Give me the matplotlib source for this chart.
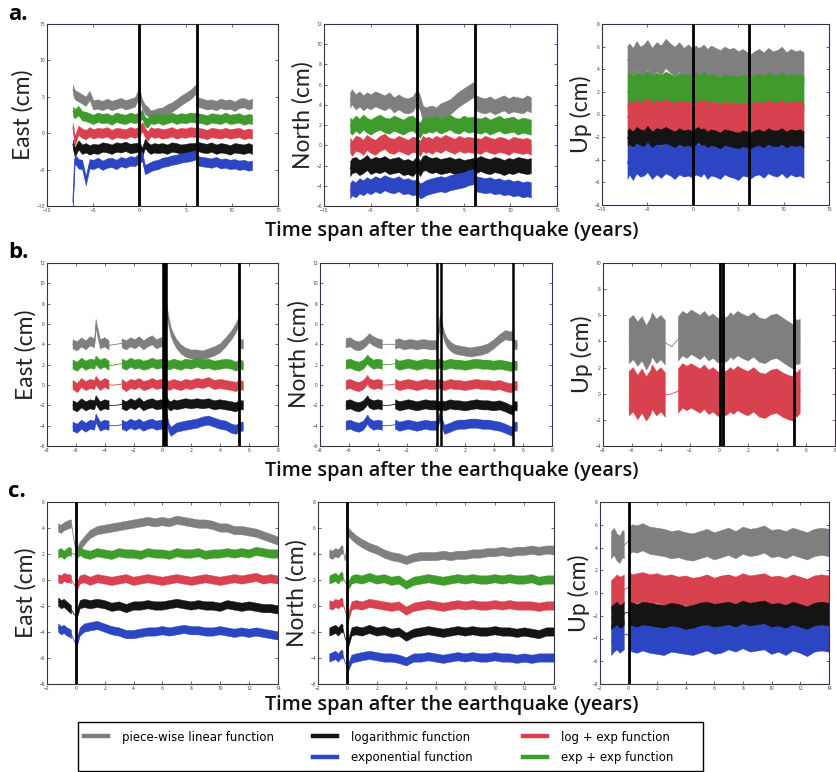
import matplotlib
matplotlib.use("Agg")
import matplotlib.pyplot as plt
import numpy as np
from matplotlib.lines import Line2D
from matplotlib.patches import Rectangle

plt.rcParams['font.family'] = ['Open Sans', 'DejaVu Sans']

GRAY = '#7f7f7f'
GREEN = '#3f9b2c'
RED = '#d8424f'
BLACK = '#141414'
BLUE = '#2c45c2'

legend_labels = ["piece-wise linear function", "logarithmic function", "exponential function",
                 "log + exp function", "exp + exp function"]
x_label = "Time span after the earthquake (years)"

# ---------------- row a ----------------
a_t = [-7.2, -7.0, -6.6, -6.2, -5.8, -5.4, -5.0, -4.5, -4.0, -3.5, -3.0, -2.5, -2.0, -1.5, -1.0, -0.5,
       0.0, 0.3, 0.6, 0.9, 1.2, 1.6, 2.0, 2.5, 3.0, 3.5, 4.0, 4.5, 5.0, 5.5, 6.0, 6.2, 6.3, 6.8, 7.3,
       7.8, 8.3, 8.8, 9.3, 9.8, 10.3, 10.8, 11.3, 11.8, 12.2]
a_east_gray = [6.0, 5.3, 5.0, 4.7, 4.4, 5.2, 3.9, 4.0, 3.8, 4.1, 3.8, 4.0, 4.2, 3.9, 4.1, 4.3, 5.6, 4.0, 3.3, 3.0, 2.5, 2.6, 2.8, 2.9, 3.3, 3.6, 4.0, 4.5, 4.9, 5.3, 5.9, 6.2, 4.3, 4.1, 3.9, 4.0, 3.8, 4.1, 3.9, 4.0, 3.7, 4.1, 4.2, 3.9, 4.1]
a_east_green = [3.0, 2.7, 3.1, 2.4, 2.3, 2.1, 1.9, 2.2, 2.0, 2.1, 1.8, 2.2, 2.0, 1.9, 2.2, 2.0, 2.2, 2.6, 1.6, 1.4, 2.0, 1.9, 2.1, 1.8, 2.0, 2.2, 1.9, 2.1, 2.0, 2.2, 2.1, 2.3, 2.1, 2.0, 1.8, 2.1, 2.0, 1.9, 2.2, 1.9, 2.0, 2.1, 1.8, 2.0, 1.9]
a_east_red = [0.8, -1.0, 0.4, 0.0, -0.2, 0.2, -0.1, 0.1, 0.0, 0.2, -0.2, 0.1, 0.0, -0.1, 0.2, 0.0, 0.3, 0.9, 0.1, -0.4, 0.2, 0.0, 0.1, -0.1, 0.0, 0.2, -0.1, 0.1, 0.0, 0.2, 0.1, 0.3, 0.1, 0.0, -0.2, 0.1, 0.0, -0.1, 0.1, -0.1, 0.0, 0.1, -0.2, 0.0, -0.1]
a_east_black = [-1.5, -2.6, -1.6, -2.2, -2.0, -2.3, -2.1, -2.2, -1.9, -2.0, -2.2, -1.9, -2.0, -1.8, -2.1, -2.0, -1.9, -2.6, -1.4, -1.9, -2.2, -2.0, -2.1, -2.0, -2.2, -1.9, -2.0, -2.2, -2.1, -2.0, -2.0, -1.8, -1.8, -2.0, -2.1, -1.9, -2.2, -2.0, -2.1, -2.3, -2.0, -2.1, -2.2, -2.0, -2.2]
a_east_blue = [-9.5, -3.5, -4.2, -4.3, -6.5, -4.2, -4.3, -4.0, -4.4, -4.1, -4.0, -4.3, -3.9, -4.1, -3.8, -3.9, -3.4, -3.2, -5.0, -4.8, -4.6, -4.4, -4.3, -4.0, -3.9, -3.7, -3.6, -3.4, -3.3, -3.2, -3.0, -3.0, -3.8, -3.9, -4.0, -4.1, -3.9, -4.2, -4.1, -4.3, -4.2, -4.4, -4.3, -4.5, -4.4]

a_north_gray = [4.5, 4.8, 4.3, 4.6, 4.2, 4.5, 4.3, 4.6, 4.4, 4.2, 4.5, 4.0, 4.3, 4.0, 3.9, 4.1, 4.8, 4.2, 3.2, 3.0, 3.1, 3.2, 3.0, 3.4, 3.6, 3.8, 4.2, 4.6, 4.9, 5.2, 5.5, 5.4, 4.2, 4.0, 3.9, 4.1, 3.8, 4.0, 4.2, 3.9, 4.1, 4.0, 3.9, 4.2, 4.0]
a_north_green = [2.0, 1.8, 2.2, 1.9, 2.3, 2.0, 1.8, 2.1, 2.3, 2.0, 1.9, 2.2, 2.0, 1.8, 2.1, 2.2, 1.8, 1.5, 2.0, 1.9, 2.1, 2.0, 2.2, 1.9, 2.1, 2.3, 2.0, 1.9, 2.2, 2.0, 2.1, 2.0, 2.0, 1.9, 2.1, 1.8, 2.0, 2.2, 1.9, 2.0, 2.1, 1.8, 2.0, 1.9, 1.8]
a_north_red = [0.0, -0.3, 0.2, 0.1, -0.2, 0.3, 0.0, -0.2, 0.2, 0.4, 0.0, -0.1, 0.2, 0.0, -0.2, 0.1, 0.0, -0.3, 0.2, 0.0, 0.1, -0.1, 0.2, 0.0, 0.3, 0.1, -0.1, 0.2, 0.0, 0.1, 0.0, 0.1, 0.0, -0.1, 0.2, 0.0, -0.1, 0.1, 0.0, -0.2, 0.1, 0.0, -0.1, 0.0, -0.2]
a_north_black = [-2.3, -2.0, -1.9, -2.2, -2.0, -1.7, -2.1, -1.9, -2.0, -1.8, -2.1, -2.0, -1.9, -2.2, -2.1, -2.3, -1.8, -2.3, -1.8, -1.7, -1.9, -2.0, -1.9, -2.1, -2.0, -1.9, -2.1, -2.0, -2.2, -2.1, -2.0, -2.2, -2.0, -1.8, -2.0, -2.1, -1.9, -2.0, -2.2, -2.0, -2.1, -1.9, -2.0, -2.1, -2.0]
a_north_blue = [-4.5, -4.2, -4.4, -4.0, -4.2, -3.9, -4.1, -3.8, -4.0, -3.7, -3.9, -4.0, -3.8, -4.1, -4.0, -4.2, -4.1, -4.5, -4.4, -4.2, -4.1, -4.0, -3.9, -3.8, -3.9, -3.7, -3.6, -3.5, -3.4, -3.2, -3.1, -3.2, -3.8, -3.9, -4.0, -3.9, -4.1, -4.0, -4.2, -4.1, -4.3, -4.2, -4.4, -4.3, -4.4]

a_up_gray = [4.8, 5.0, 4.6, 5.2, 4.7, 4.9, 5.3, 4.6, 5.1, 4.8, 5.4, 5.0, 4.7, 5.1, 4.6, 4.9, 4.5, 4.8, 4.6, 4.7, 4.9, 4.5, 4.8, 4.6, 4.4, 4.7, 4.5, 4.6, 4.3, 4.5, 4.2, 4.4, 4.0, 4.3, 4.5, 4.2, 4.6, 4.3, 4.4, 4.7, 4.2, 4.5, 4.3, 4.4, 4.2]
a_up_green = [2.0, 2.2, 1.9, 2.3, 2.0, 2.1, 2.4, 1.9, 2.2, 2.0, 2.3, 2.1, 1.9, 2.2, 2.0, 2.1, 1.9, 2.2, 2.0, 2.1, 2.3, 1.9, 2.1, 2.0, 1.8, 2.1, 1.9, 2.0, 1.8, 2.0, 1.9, 2.0, 1.8, 2.0, 2.1, 1.9, 2.2, 2.0, 2.0, 2.2, 1.9, 2.1, 2.0, 2.1, 1.9]
a_up_red = [-0.3, 0.0, -0.4, 0.1, -0.2, -0.1, 0.2, -0.3, 0.0, -0.2, 0.1, -0.1, -0.3, 0.0, -0.2, -0.1, -0.4, 0.0, -0.2, -0.1, 0.1, -0.3, -0.1, -0.2, -0.4, -0.1, -0.3, -0.2, -0.4, -0.2, -0.3, -0.2, -0.4, -0.2, -0.1, -0.3, 0.0, -0.2, -0.2, 0.0, -0.3, -0.1, -0.2, -0.1, -0.3]
a_up_black = [-2.1, -1.9, -2.2, -1.8, -2.0, -2.1, -1.7, -2.2, -1.9, -2.0, -1.8, -2.0, -2.2, -1.9, -2.1, -2.0, -2.2, -1.9, -1.8, -2.0, -1.9, -2.2, -2.0, -2.1, -2.3, -2.0, -2.1, -2.2, -2.3, -2.1, -2.2, -2.1, -2.3, -2.1, -2.0, -2.2, -1.9, -2.1, -2.1, -1.9, -2.2, -2.0, -2.1, -2.0, -2.2]
a_up_blue = [-4.3, -3.9, -4.4, -3.8, -4.1, -4.0, -3.7, -4.3, -3.9, -4.2, -3.8, -4.0, -4.3, -3.9, -4.1, -4.0, -4.2, -3.9, -4.0, -4.1, -3.8, -4.3, -4.0, -4.1, -4.3, -3.9, -4.1, -4.2, -4.4, -4.0, -4.1, -4.0, -4.3, -4.0, -3.9, -4.2, -3.8, -4.0, -4.1, -3.8, -4.2, -3.9, -4.1, -4.0, -4.2]

# ---------------- row b ----------------
b_t = [-6.2, -5.9, -5.6, -5.3, -5.0, -4.7, -4.6, -4.3, -4.0, -3.7, -3.25, -2.8, -2.5, -2.2, -1.9, -1.6,
       -1.3, -1.0, -0.7, -0.4, -0.1, 0.1, 0.3, 0.45, 0.6, 0.8, 1.0, 1.3, 1.6, 2.0, 2.4, 2.8, 3.2, 3.6,
       4.0, 4.4, 4.8, 5.1, 5.3, 5.4, 5.6]
b_gap = (-3.7, -2.8)
b_east_gray = [4.0, 3.8, 4.2, 3.9, 4.3, 4.1, 6.0, 4.0, 4.2, 3.9, 4.0, 4.1, 3.9, 4.2, 4.0, 4.3, 3.9, 4.2, 4.4, 4.0, 4.2, 4.1, 7.5, 6.2, 5.2, 4.5, 4.0, 3.5, 3.2, 3.0, 3.0, 2.9, 3.1, 3.3, 3.6, 4.2, 4.9, 5.6, 6.2, 4.0, 4.0]
b_east_green = [2.0, 1.8, 2.2, 1.9, 2.1, 2.0, 2.4, 2.0, 2.2, 1.9, 2.0, 2.1, 1.9, 2.2, 2.0, 2.1, 1.9, 2.0, 2.2, 2.0, 2.1, 2.0, 2.2, 1.9, 2.0, 2.1, 2.0, 1.9, 2.1, 2.0, 2.2, 2.0, 2.1, 1.9, 2.0, 2.1, 2.0, 1.8, 2.0, 2.0, 1.9]
b_east_red = [0.0, -0.3, 0.2, -0.1, 0.1, 0.0, 0.4, -0.1, 0.2, 0.0, 0.0, 0.1, -0.2, 0.1, 0.0, 0.2, -0.1, 0.0, 0.2, 0.0, 0.1, 0.0, 0.1, -0.1, 0.0, 0.1, 0.0, -0.1, 0.1, 0.0, 0.2, 0.1, 0.3, 0.0, 0.1, 0.0, -0.1, -0.2, 0.0, 0.0, -0.1]
b_east_black = [-2.0, -2.2, -1.8, -2.1, -1.9, -2.0, -1.5, -2.1, -1.9, -2.0, -2.0, -1.9, -2.1, -1.8, -2.0, -1.7, -2.1, -1.9, -1.8, -2.0, -1.9, -2.0, -1.6, -2.0, -2.1, -1.9, -2.0, -1.9, -1.8, -1.9, -1.8, -1.9, -1.8, -2.0, -1.9, -2.0, -2.1, -2.2, -2.0, -2.0, -2.0]
b_east_blue = [-4.1, -4.3, -3.9, -4.2, -3.9, -4.0, -3.3, -4.1, -3.9, -4.0, -4.0, -3.9, -4.1, -3.8, -4.0, -3.8, -4.1, -3.9, -3.8, -4.0, -3.9, -4.0, -3.2, -4.2, -4.6, -4.4, -4.2, -4.1, -4.0, -3.9, -3.8, -3.6, -3.5, -3.7, -3.9, -4.0, -4.3, -4.4, -4.2, -4.1, -4.1]

b_north_gray = [4.1, 4.2, 3.9, 3.8, 4.0, 4.4, 4.6, 4.3, 4.1, 4.0, 4.0, 4.0, 4.1, 3.9, 4.0, 4.0, 3.9, 4.0, 4.0, 3.9, 3.9, 4.0, 6.5, 5.5, 4.7, 4.1, 3.8, 3.5, 3.4, 3.3, 3.2, 3.3, 3.4, 3.6, 4.0, 4.5, 4.9, 4.8, 4.8, 4.0, 3.9]
b_north_green = [2.0, 2.1, 1.9, 1.8, 2.0, 2.5, 2.3, 2.0, 2.1, 2.0, 2.0, 2.1, 1.9, 2.0, 2.1, 2.0, 1.9, 2.0, 2.1, 2.0, 2.0, 2.0, 2.1, 2.0, 1.9, 2.0, 2.1, 2.0, 2.0, 1.9, 2.0, 2.1, 2.0, 2.0, 1.9, 2.0, 1.9, 1.8, 1.8, 1.9, 1.9]
b_north_red = [0.0, 0.1, -0.1, -0.2, 0.0, 0.5, 0.2, 0.0, 0.1, 0.0, 0.0, 0.1, -0.1, 0.0, 0.1, 0.0, -0.1, 0.0, 0.1, 0.0, 0.0, 0.0, 0.1, 0.0, -0.1, 0.0, 0.1, 0.0, 0.0, -0.1, 0.0, 0.1, 0.0, 0.0, -0.1, 0.0, -0.2, -0.3, -0.3, -0.1, -0.1]
b_north_black = [-2.0, -1.9, -2.1, -2.2, -2.0, -1.5, -1.8, -2.0, -1.9, -2.0, -2.0, -1.9, -2.1, -2.0, -1.9, -2.0, -2.1, -2.0, -1.9, -2.0, -2.0, -2.0, -2.1, -2.0, -2.1, -2.0, -1.9, -2.0, -2.0, -2.1, -2.0, -1.9, -2.0, -2.0, -2.1, -2.0, -2.2, -2.4, -2.5, -2.1, -2.1]
b_north_blue = [-4.0, -3.9, -4.1, -4.2, -4.0, -3.4, -3.7, -4.0, -3.9, -4.0, -4.0, -3.9, -4.1, -4.0, -3.9, -4.0, -4.1, -4.0, -3.9, -4.0, -4.0, -4.0, -3.0, -3.8, -4.4, -4.3, -4.2, -4.0, -3.9, -3.9, -3.8, -3.8, -3.9, -3.9, -4.0, -4.1, -4.3, -4.5, -4.6, -4.1, -4.1]

b_up_gray = [4.0, 4.3, 3.8, 4.2, 3.5, 4.1, 4.5, 4.0, 4.3, 3.9, 3.6, 4.2, 4.6, 4.4, 4.7, 4.5, 4.3, 4.6, 4.2, 4.4, 4.1, 4.0, 4.3, 4.1, 4.2, 4.5, 4.3, 4.6, 4.4, 4.2, 4.5, 4.1, 4.0, 4.3, 4.4, 4.1, 3.8, 3.6, 4.0, 3.9, 4.0]
b_up_red = [0.0, 0.3, -0.3, 0.2, -0.4, 0.1, 0.5, 0.0, 0.3, -0.1, 0.0, 0.2, 0.6, 0.4, 0.6, 0.4, 0.2, 0.5, 0.1, 0.3, 0.0, -0.1, 0.2, 0.0, 0.1, 0.3, 0.1, 0.4, 0.2, 0.0, 0.3, -0.1, -0.2, 0.1, 0.2, -0.1, -0.3, -0.4, 0.0, -0.1, 0.2]

# ---------------- row c ----------------
c_t = [-1.2, -1.0, -0.8, -0.6, -0.4, -0.3, -0.15, 0.05, 0.3, 0.6, 1.0, 1.5, 2.0, 2.5, 3.0, 3.5, 4.0,
       4.5, 5.0, 5.5, 6.0, 6.5, 7.0, 7.5, 8.0, 8.5, 9.0, 9.5, 10.0, 10.5, 11.0, 11.5, 12.0, 12.5, 13.0,
       13.5, 14.0]
c_gap = (-0.3, 0.05)
c_east_gray = [4.0, 3.9, 4.1, 4.2, 4.3, 4.3, 3.2, 2.0, 2.6, 3.0, 3.5, 3.8, 3.9, 4.0, 4.1, 4.2, 4.3, 4.4, 4.5, 4.4, 4.5, 4.4, 4.6, 4.5, 4.4, 4.3, 4.3, 4.2, 4.0, 4.0, 3.8, 3.8, 3.7, 3.6, 3.4, 3.2, 3.0]
c_east_green = [2.0, 2.1, 1.9, 2.1, 2.2, 2.1, 2.0, 1.9, 2.2, 2.0, 1.9, 2.1, 2.0, 1.9, 2.1, 2.0, 2.0, 1.9, 2.1, 2.0, 2.0, 1.9, 2.1, 2.0, 2.0, 2.1, 1.9, 2.0, 2.0, 2.1, 2.0, 2.1, 2.0, 2.2, 2.1, 2.0, 2.0]
c_east_red = [0.1, 0.0, 0.2, 0.1, 0.1, 0.0, -0.3, -0.6, 0.0, 0.1, -0.1, 0.1, 0.0, -0.1, 0.0, 0.1, -0.1, 0.0, 0.1, 0.0, -0.1, 0.0, 0.1, 0.0, -0.1, 0.0, 0.1, 0.0, -0.1, 0.0, 0.1, 0.0, 0.1, 0.2, 0.0, 0.1, 0.0]
c_east_black = [-1.7, -1.9, -1.8, -2.0, -2.2, -2.3, -2.6, -2.8, -1.9, -1.8, -1.9, -1.8, -1.9, -2.1, -2.0, -2.2, -2.0, -2.0, -1.9, -2.0, -2.0, -1.9, -1.8, -1.9, -2.0, -1.9, -2.0, -2.0, -2.1, -1.9, -2.0, -2.1, -2.0, -2.1, -2.2, -2.2, -2.3]
c_east_blue = [-3.7, -3.9, -3.8, -4.0, -4.1, -4.2, -4.6, -5.0, -4.0, -3.7, -3.6, -3.5, -3.7, -3.9, -4.0, -4.2, -4.2, -4.1, -4.0, -4.0, -3.9, -4.0, -3.9, -3.8, -3.9, -3.9, -4.0, -4.0, -3.9, -4.0, -4.1, -4.0, -4.1, -4.0, -4.1, -4.2, -4.3]

c_north_gray = [4.0, 3.9, 4.1, 4.0, 4.3, 4.3, 3.5, 5.7, 5.4, 5.1, 4.8, 4.5, 4.3, 4.0, 3.8, 3.7, 3.5, 3.7, 3.8, 3.8, 3.8, 3.9, 3.8, 3.9, 3.9, 4.0, 4.0, 4.1, 4.1, 4.2, 4.1, 4.2, 4.2, 4.3, 4.2, 4.3, 4.3]
c_north_green = [2.0, 2.1, 2.2, 2.0, 2.3, 2.2, 1.8, 1.5, 2.0, 2.1, 2.0, 2.2, 2.0, 2.1, 1.9, 2.0, 1.6, 1.9, 2.0, 2.1, 2.0, 1.9, 2.0, 2.1, 2.0, 2.1, 2.0, 2.0, 2.1, 2.0, 2.1, 2.0, 2.0, 2.1, 1.9, 2.0, 2.0]
c_north_red = [0.1, 0.0, 0.2, 0.1, 0.3, 0.2, -0.4, -1.0, 0.0, 0.1, 0.0, 0.2, 0.1, 0.0, -0.1, 0.0, -0.4, -0.1, 0.0, 0.1, 0.0, -0.1, 0.0, 0.1, 0.0, 0.1, 0.0, 0.0, 0.1, 0.0, 0.1, 0.0, 0.0, 0.0, -0.1, 0.0, 0.0]
c_north_black = [-2.0, -1.9, -1.8, -2.0, -1.7, -1.8, -2.5, -3.0, -2.0, -1.9, -2.0, -1.8, -2.0, -1.9, -2.1, -2.0, -2.4, -2.1, -2.0, -1.9, -2.0, -2.1, -2.0, -1.9, -2.0, -1.9, -2.0, -2.0, -1.9, -2.0, -2.0, -2.1, -2.0, -2.1, -2.2, -2.0, -2.0]
c_north_blue = [-4.0, -3.9, -3.8, -4.0, -3.7, -3.8, -4.4, -4.8, -4.1, -4.0, -3.9, -3.8, -3.9, -4.0, -4.0, -4.1, -4.3, -4.0, -4.0, -3.9, -4.0, -4.1, -4.0, -3.9, -4.0, -3.9, -4.0, -4.0, -3.9, -4.0, -4.0, -4.1, -4.0, -4.1, -4.0, -4.0, -4.0]

c_up_gray = [4.2, 4.5, 4.0, 3.8, 4.3, 4.2, 4.4, 4.6, 4.8, 4.7, 4.9, 4.6, 4.5, 4.4, 4.2, 4.3, 4.1, 4.0, 4.2, 4.4, 4.1, 4.3, 4.5, 4.2, 4.6, 4.4, 4.5, 4.7, 4.3, 4.4, 4.2, 4.5, 4.3, 4.1, 4.4, 4.5, 4.4]
c_up_red = [-0.2, 0.0, 0.3, 0.1, 0.2, 0.3, 0.4, 0.5, 0.3, 0.4, 0.5, 0.3, 0.4, 0.2, 0.3, 0.1, 0.2, 0.0, 0.1, 0.3, 0.0, 0.2, 0.3, 0.1, 0.4, 0.2, 0.3, 0.4, 0.1, 0.2, 0.0, 0.3, 0.1, -0.1, 0.2, 0.3, 0.2]
c_up_black = [-2.2, -2.0, -1.8, -2.1, -2.0, -1.8, -1.7, -1.8, -1.9, -2.0, -1.8, -1.9, -2.0, -2.1, -1.9, -2.0, -2.2, -2.1, -1.9, -1.8, -2.0, -1.9, -1.8, -2.0, -1.7, -1.9, -1.8, -1.7, -2.0, -1.9, -2.1, -1.8, -2.0, -2.2, -1.9, -1.8, -1.9]
c_up_blue = [-4.2, -3.9, -3.7, -4.0, -3.8, -3.7, -3.6, -3.8, -3.9, -4.0, -3.8, -4.0, -4.1, -4.2, -3.9, -4.0, -4.1, -4.2, -4.0, -3.8, -4.1, -4.0, -3.7, -3.9, -3.6, -3.9, -3.8, -3.7, -4.1, -3.9, -4.2, -3.8, -4.0, -4.3, -3.9, -3.8, -3.9]

# noise half-widths (cm) of each band
hw_a_east = 0.65
hw_a_north = 0.75
hw_a_up = {'gray': 1.3, 'green': 1.5, 'red': 1.3, 'black': 0.7, 'blue': 1.4}
hw_b = 0.45
hw_b_up = 1.7
hw_c = 0.32
hw_c_up = {'gray': 1.2, 'red': 1.3, 'black': 1.0, 'blue': 1.3}

W, H = 837, 772
fig = plt.figure(figsize=(W / 100, H / 100), dpi=100)


def rect(l, t, r, b):
    return [l / W, 1 - b / H, (r - l) / W, (b - t) / H]


def panel(box, t, series, xlim, xstep, ylim, ystep, vlines, ylabel, gap=None):
    ax = fig.add_axes(rect(*box))
    t = np.asarray(t, float)
    mask = np.ones(len(t), bool)
    if gap is not None:
        mask = ~((t > gap[0]) & (t < gap[1]))
    for vals, color, hw in series:
        v = np.asarray(vals, float)
        ax.plot(t, v, color=color, lw=0.6, zorder=2)
        ax.fill_between(t, v - hw, v + hw, where=mask, color=color, lw=0.3, zorder=2)
    for x, lw in vlines:
        ax.axvline(x, color='black', lw=lw, zorder=3)
    ax.set_xlim(*xlim)
    ax.set_ylim(*ylim)
    ax.set_xticks(np.arange(xlim[0], xlim[1] + 0.01, xstep))
    ax.set_yticks(np.arange(ylim[0], ylim[1] + 0.01, ystep))
    ax.tick_params(direction='in', length=2, width=0.5, labelsize=3.5, pad=1.5,
                   top=True, right=True, colors='#333333')
    for s in ax.spines.values():
        s.set_color('#3a2f4a')
        s.set_linewidth(0.8)
    ax.set_ylabel(ylabel, fontsize=16.5, labelpad=2, color='#222222', family=['Lato', 'DejaVu Sans'])
    return ax


# row a
va = [(0.0, 2.0), (6.2, 2.0)]
panel((47, 24, 278, 206), a_t,
      [(a_east_gray, GRAY, hw_a_east), (a_east_green, GREEN, hw_a_east), (a_east_red, RED, hw_a_east),
       (a_east_black, BLACK, hw_a_east), (a_east_blue, BLUE, hw_a_east)],
      (-10, 15), 5, (-10, 15), 5, va, "East (cm)")
panel((324, 24, 557, 206), a_t,
      [(a_north_gray, GRAY, hw_a_north), (a_north_green, GREEN, hw_a_north), (a_north_red, RED, hw_a_north),
       (a_north_black, BLACK, hw_a_north), (a_north_blue, BLUE, hw_a_north)],
      (-10, 15), 5, (-6, 12), 2, va, "North (cm)")
panel((602, 24, 829, 205), a_t,
      [(a_up_gray, GRAY, hw_a_up['gray']), (a_up_green, GREEN, hw_a_up['green']),
       (a_up_red, RED, hw_a_up['red']), (a_up_blue, BLUE, hw_a_up['blue']),
       (a_up_black, BLACK, hw_a_up['black'])],
      (-10, 15), 5, (-8, 8), 2, va, "Up (cm)")

# row b
panel((47, 263, 278, 446), b_t,
      [(b_east_gray, GRAY, hw_b), (b_east_green, GREEN, hw_b), (b_east_red, RED, hw_b),
       (b_east_black, BLACK, hw_b), (b_east_blue, BLUE, hw_b)],
      (-8, 8), 2, (-6, 12), 2, [(0.2, 4.0), (5.3, 2.0)], "East (cm)", b_gap)
panel((320, 263, 552, 446), b_t,
      [(b_north_gray, GRAY, hw_b), (b_north_green, GREEN, hw_b), (b_north_red, RED, hw_b),
       (b_north_black, BLACK, hw_b), (b_north_blue, BLUE, hw_b)],
      (-8, 8), 2, (-6, 12), 2, [(0.1, 1.8), (0.35, 1.8), (5.3, 1.8)], "North (cm)", b_gap)
panel((603, 263, 835, 446), b_t,
      [(b_up_gray, GRAY, hw_b_up), (b_up_red, RED, hw_b_up)],
      (-8, 8), 2, (-4, 10), 2, [(0.05, 2.0), (0.25, 2.0), (5.2, 2.0)], "Up (cm)", b_gap)

# row c
vc = [(0.0, 2.0)]
panel((47, 502, 278, 684), c_t,
      [(c_east_gray, GRAY, hw_c), (c_east_green, GREEN, hw_c), (c_east_red, RED, hw_c),
       (c_east_black, BLACK, hw_c), (c_east_blue, BLUE, hw_c)],
      (-2, 14), 2, (-8, 6), 2, vc, "East (cm)", c_gap)
panel((318, 502, 554, 684), c_t,
      [(c_north_gray, GRAY, hw_c), (c_north_green, GREEN, hw_c), (c_north_red, RED, hw_c),
       (c_north_black, BLACK, hw_c), (c_north_blue, BLUE, hw_c)],
      (-2, 14), 2, (-6, 8), 2, vc, "North (cm)", c_gap)
panel((600, 502, 829, 684), c_t,
      [(c_up_gray, GRAY, hw_c_up['gray']), (c_up_red, RED, hw_c_up['red']),
       (c_up_blue, BLUE, hw_c_up['blue']), (c_up_black, BLACK, hw_c_up['black'])],
      (-2, 14), 2, (-8, 8), 2, vc, "Up (cm)", c_gap)

# panel letters and x labels
for letter, y in [("a.", 14), ("b.", 253), ("c.", 491)]:
    fig.text(8 / W, 1 - y / H, letter, fontsize=16, fontweight='bold', va='center', ha='left')
for y in [231, 471, 705]:
    fig.text(452 / W, 1 - y / H, x_label, fontsize=14.3, fontweight='semibold', ha='center', va='center',
             color='#111111')

# legend: frame plus one single-entry legend per slot
fig.add_artist(Rectangle((78 / W, 1 - 771 / H), (703 - 78) / W, (771 - 722) / H,
                         transform=fig.transFigure, fill=False, edgecolor='black', lw=1.0))
colors = [GRAY, BLACK, BLUE, RED, GREEN]
slots = [(84, 737), (313, 737), (313, 758), (523, 737), (523, 758)]
for lab, col, (sx, sy) in zip(legend_labels, colors, slots):
    fig.legend([Line2D([], [], color=col, lw=3.2)], [lab], loc='center left',
               bbox_to_anchor=(sx / W, 1 - sy / H), frameon=False, borderpad=0, borderaxespad=0,
               handlelength=2.0, handletextpad=1.2,
               prop={'family': ['DejaVu Sans'], 'size': 8.5})

fig.savefig("out.png", dpi=100)
